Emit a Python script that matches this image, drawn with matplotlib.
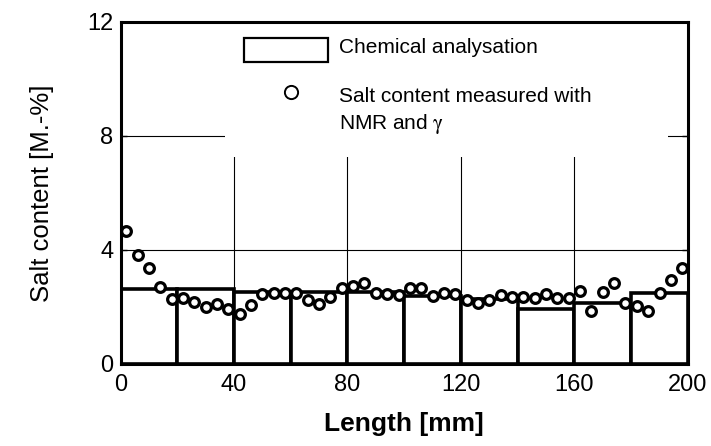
import matplotlib.pyplot as plt
from matplotlib.patches import Rectangle
from matplotlib.lines import Line2D

plt.rcParams['font.family'] = ['Liberation Sans', 'DejaVu Sans']
plt.rcParams['mathtext.fontset'] = 'stix'

# chemical analysis, one value per 20 mm slice
slice_start = [0, 20, 40, 60, 80, 100, 120, 140, 160, 180]
chem_salt = [2.63, 2.63, 2.54, 2.54, 2.52, 2.39, 2.28, 1.94, 2.13, 2.48]

# NMR / gamma measurement
nmr_x = [2, 6, 10, 14, 18, 22, 26, 30, 34, 38,
         42, 46, 50, 54, 58, 62, 66, 70, 74, 78,
         82, 86, 90, 94, 98, 102, 106, 110, 114, 118,
         122, 126, 130, 134, 138, 142, 146, 150, 154, 158,
         162, 166, 170, 174, 178, 182, 186, 190, 194, 198]
nmr_salt = [4.67, 3.82, 3.38, 2.71, 2.28, 2.33, 2.19, 1.99, 2.09, 1.92,
            1.75, 2.07, 2.46, 2.50, 2.48, 2.50, 2.25, 2.09, 2.34, 2.65,
            2.74, 2.85, 2.50, 2.46, 2.42, 2.65, 2.68, 2.39, 2.48, 2.46,
            2.25, 2.13, 2.25, 2.42, 2.34, 2.34, 2.30, 2.46, 2.30, 2.30,
            2.56, 1.87, 2.52, 2.83, 2.15, 2.04, 1.86, 2.50, 2.95, 3.38]

x_ticks = [0, 40, 80, 120, 160, 200]
y_ticks = [0, 4, 8, 12]

fig = plt.figure(figsize=(7.11, 4.46), dpi=100)
ax = fig.add_axes([0.1695, 0.184, 0.798, 0.767])

ax.set_xlim(0, 200)
ax.set_ylim(0, 12)

# grid
for gx in x_ticks[1:-1]:
    ax.axvline(gx, color='black', lw=0.8, zorder=1)
for gy in y_ticks[1:-1]:
    ax.axhline(gy, color='black', lw=0.8, zorder=1)

ax.bar(slice_start, chem_salt, width=20, align='edge',
       facecolor='white', edgecolor='black', linewidth=2.6, zorder=3)

ax.plot(nmr_x, nmr_salt, 'o', markersize=7, markerfacecolor='white',
        markeredgecolor='black', markeredgewidth=2.3, zorder=4,
        clip_on=False)

# legend area (white box hiding grid)
ax.add_patch(Rectangle((0.184, 0.605), 0.781, 0.395, transform=ax.transAxes,
                       facecolor='white', edgecolor='none', zorder=2))
ax.add_patch(Rectangle((0.2181, 0.883), 0.148, 0.069, transform=ax.transAxes,
                       facecolor='white', edgecolor='black', lw=1.6, zorder=5))
ax.add_line(Line2D([0.300], [0.795], transform=ax.transAxes, marker='o',
                   markersize=9.5, markerfacecolor='white',
                   markeredgecolor='black', markeredgewidth=1.4, zorder=5))
ax.text(0.385, 0.909, 'Chemical analysation', transform=ax.transAxes,
        fontsize=15, va='baseline', ha='left', zorder=6)
ax.text(0.385, 0.766, 'Salt content measured with', transform=ax.transAxes,
        fontsize=15, va='baseline', ha='left', zorder=6)
ax.text(0.385, 0.688, 'NMR and $\\mathrm{\\gamma}$', transform=ax.transAxes,
        fontsize=15, va='baseline', ha='left', zorder=6)

ax.set_xticks(x_ticks)
ax.set_yticks(y_ticks)
ax.tick_params(direction='in', length=4, width=1, labelsize=17,
               top=True, right=True)
ax.tick_params(axis='x', pad=7)
ax.tick_params(axis='y', pad=5)

for sp in ax.spines.values():
    sp.set_linewidth(2.2)
    sp.set_zorder(7)

ax.set_ylabel('Salt content [M.-%]', fontsize=18.5, labelpad=24)
ax.set_xlabel('Length [mm]', fontsize=19, fontweight='bold', labelpad=12)

fig.savefig('out.png', dpi=100)
